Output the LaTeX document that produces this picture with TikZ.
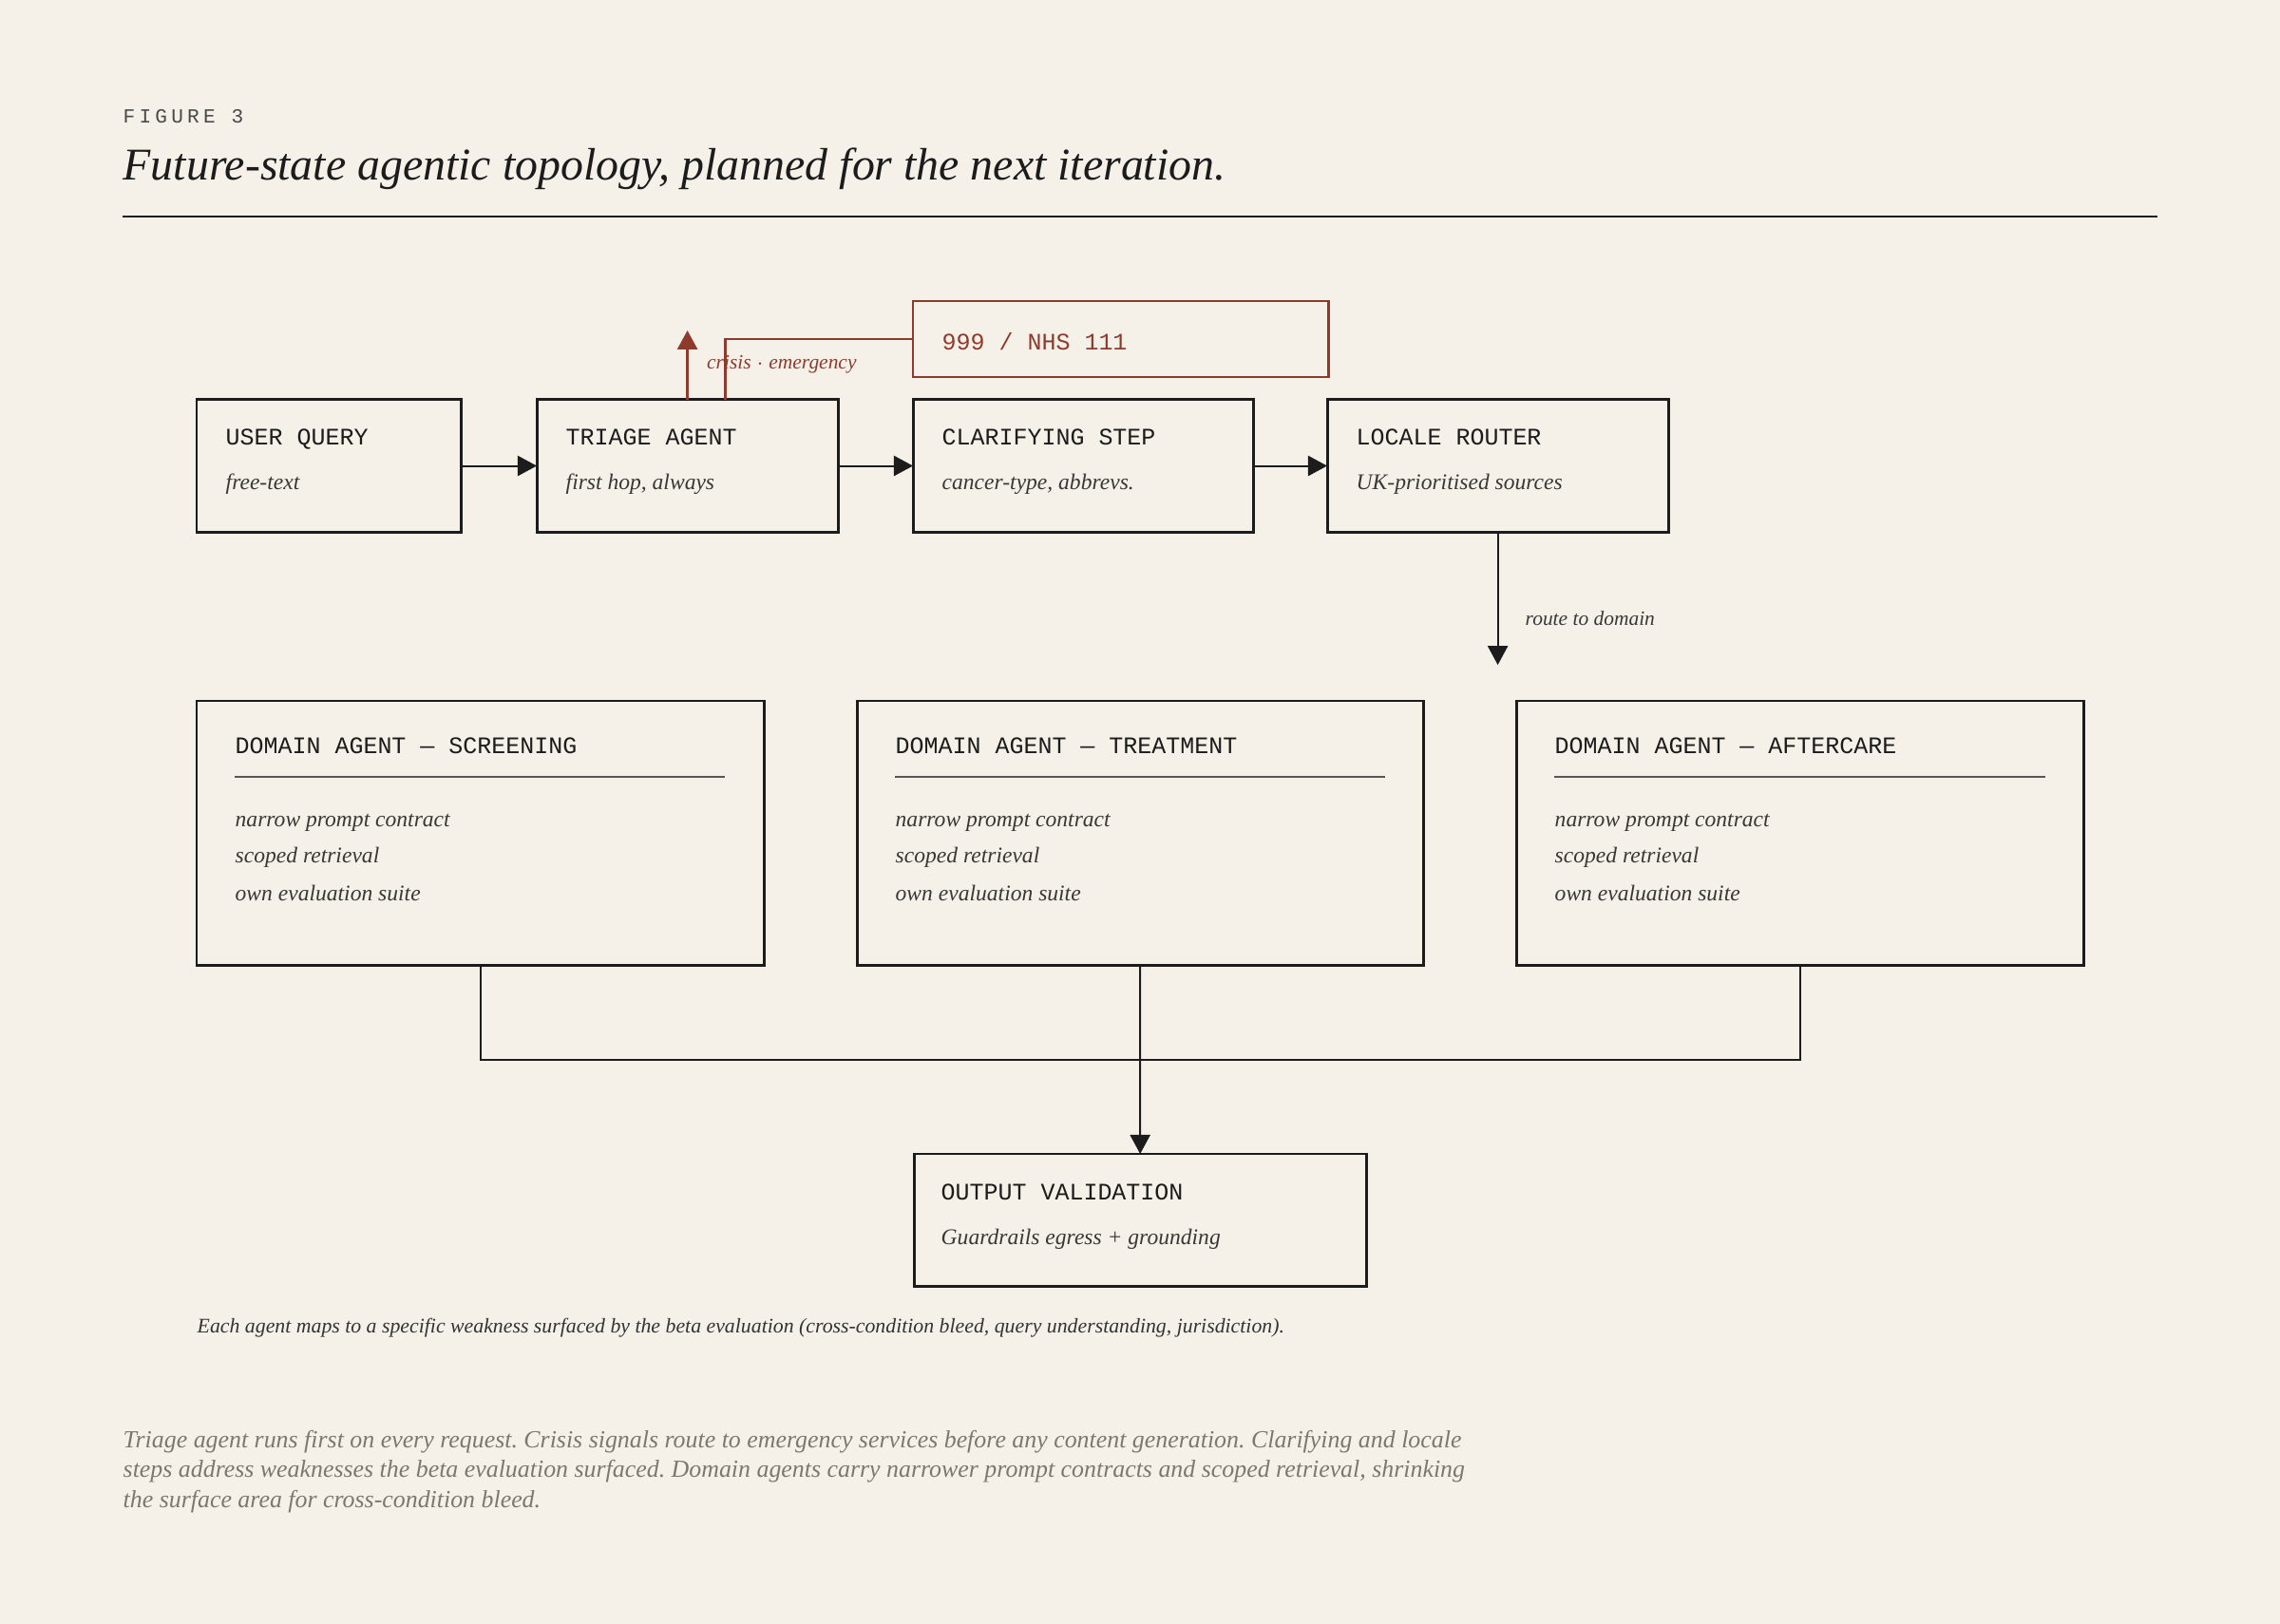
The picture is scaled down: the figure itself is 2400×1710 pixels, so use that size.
\documentclass[tikz,border=0pt]{standalone}
\usepackage{fontspec}
\setmainfont{Liberation Serif}
\newfontfamily\monofont{Liberation Mono}
\newfontfamily\figfont[LetterSpace=20]{Liberation Mono}
\usetikzlibrary{arrows.meta,positioning}
\definecolor{paper}{HTML}{F5F1E9}
\definecolor{ink}{HTML}{1C1C1C}
\definecolor{alert}{HTML}{8E3B2E}
\definecolor{muted}{HTML}{7D786F}
\definecolor{soft}{HTML}{3A3835}
\definecolor{rulegrey}{HTML}{5A5752}
\frenchspacing

\begin{document}
\begin{tikzpicture}[x=0.01cm, y=-0.01cm,
    box/.style={draw=ink, line width=0.85pt, anchor=north west, inner sep=0pt, outer sep=0pt},
    redbox/.style={draw=alert, line width=0.7pt, anchor=north west, inner sep=0pt, outer sep=0pt},
    txt/.style={anchor=base west, inner sep=0pt},
    boxtitle/.style={txt, ink, font=\monofont\fontsize{7.1}{8}\selectfont},
    boxnote/.style={txt, soft, font=\itshape\fontsize{6.7}{8}\selectfont},
    smallnote/.style={txt, font=\itshape\fontsize{6.1}{7}\selectfont},
    link/.style={ink, line width=0.57pt},
    arr/.style={link, -{Triangle[length=5.7pt, width=6pt]}}]

    \fill[paper] (0,0) rectangle (2400,1710);

    % header
    \draw (129,130) node[txt, color=ink!80, font=\figfont\fontsize{6}{7}\selectfont] (fig) {FIGURE 3};
    \draw (129,190) node[txt, ink, font=\itshape\fontsize{13.6}{16}\selectfont] (heading) {Future-state agentic topology, planned for the next iteration.};
    \draw[ink, line width=0.57pt] (129,228.5) -- (2271,228.5);

    % top row
    \draw (207,421) node[box, minimum width=2.78cm, minimum height=1.39cm] (query) {};
    \draw (237,469) node[boxtitle] (query-t) {USER QUERY};
    \draw (237,516) node[boxnote] (query-n) {free-text};

    \draw (565,421) node[box, minimum width=3.17cm, minimum height=1.39cm] (triage) {};
    \draw (595,469) node[boxtitle] (triage-t) {TRIAGE AGENT};
    \draw (595,516) node[boxnote] (triage-n) {first hop, always};

    \draw (961,421) node[box, minimum width=3.58cm, minimum height=1.39cm] (clarify) {};
    \draw (991,469) node[boxtitle] (clarify-t) {CLARIFYING STEP};
    \draw (991,516) node[boxnote] (clarify-n) {cancer-type, abbrevs.};

    \draw (1397,421) node[box, minimum width=3.59cm, minimum height=1.39cm] (router) {};
    \draw (1427,469) node[boxtitle] (router-t) {LOCALE ROUTER};
    \draw (1427,516) node[boxnote] (router-n) {UK-prioritised sources};

    \draw (961,317) node[redbox, minimum width=4.37cm, minimum height=0.8cm] (nhs) {};
    \draw (991,369) node[boxtitle, alert] (nhs-t) {999 / NHS 111};

    \draw[arr] (query) -- (triage);
    \draw[arr] (triage) -- (clarify);
    \draw[arr] (clarify) -- (router);

    % crisis escalation
    \coordinate[above=0.73cm of triage.north] (up);
    \draw[arr, alert, line width=0.7pt] (triage.north) -- (up);
    \draw[alert, line width=0.7pt] ([xshift=0.4cm]triage.north) |- (nhs.west);
    \draw (743.5,389) node[smallnote, alert] (crisis) {crisis $\cdot$ emergency};

    \coordinate[below=1.4cm of router.south] (down);
    \draw[arr] (router) -- (down);
    \draw (1605,659) node[smallnote, soft] (route) {route to domain};

    % domain agents
    \draw (207,738) node[box, minimum width=5.97cm, minimum height=2.78cm] (screening) {};
    \draw (247,794) node[boxtitle] (screening-t) {DOMAIN AGENT — SCREENING};
    \draw[rulegrey, line width=0.45pt] (247,818) -- (763,818);
    \draw (247,870) node[boxnote] (screening-a) {narrow prompt contract};
    \draw (247,909) node[boxnote] (screening-b) {scoped retrieval};
    \draw (247,948.5) node[boxnote] (screening-c) {own evaluation suite};

    \draw (902,738) node[box, minimum width=5.96cm, minimum height=2.78cm] (treatment) {};
    \draw (942,794) node[boxtitle] (treatment-t) {DOMAIN AGENT — TREATMENT};
    \draw[rulegrey, line width=0.45pt] (942,818) -- (1458,818);
    \draw (942,870) node[boxnote] (treatment-a) {narrow prompt contract};
    \draw (942,909) node[boxnote] (treatment-b) {scoped retrieval};
    \draw (942,948.5) node[boxnote] (treatment-c) {own evaluation suite};

    \draw (1596,738) node[box, minimum width=5.97cm, minimum height=2.78cm] (aftercare) {};
    \draw (1636,794) node[boxtitle] (aftercare-t) {DOMAIN AGENT — AFTERCARE};
    \draw[rulegrey, line width=0.45pt] (1636,818) -- (2153,818);
    \draw (1636,870) node[boxnote] (aftercare-a) {narrow prompt contract};
    \draw (1636,909) node[boxnote] (aftercare-b) {scoped retrieval};
    \draw (1636,948.5) node[boxnote] (aftercare-c) {own evaluation suite};

    % output
    \draw (962,1215) node[box, minimum width=4.76cm, minimum height=1.39cm] (output) {};
    \draw (990,1263) node[boxtitle] (output-t) {OUTPUT VALIDATION};
    \draw (990,1310) node[boxnote] (output-n) {Guardrails egress + grounding};

    \coordinate (join) at (1200,1116);
    \draw[link] (screening.south) |- (join) -| (aftercare.south);
    \draw[arr] (treatment) -- (output);

    % notes
    \draw (207,1403) node[txt, color=ink!90, font=\itshape\fontsize{6.2}{7}\selectfont] (foot) {Each agent maps to a specific weakness surfaced by the beta evaluation (cross-condition bleed, query understanding, jurisdiction).};
    \draw (129,1587) node[txt, muted, align=left, font=\itshape\fontsize{7.36}{8.9}\selectfont] (caption) {Triage agent runs first on every request. Crisis signals route to emergency services before any content generation. Clarifying and locale\\steps address weaknesses the beta evaluation surfaced. Domain agents carry narrower prompt contracts and scoped retrieval, shrinking\\the surface area for cross-condition bleed.};
\end{tikzpicture}
\end{document}
